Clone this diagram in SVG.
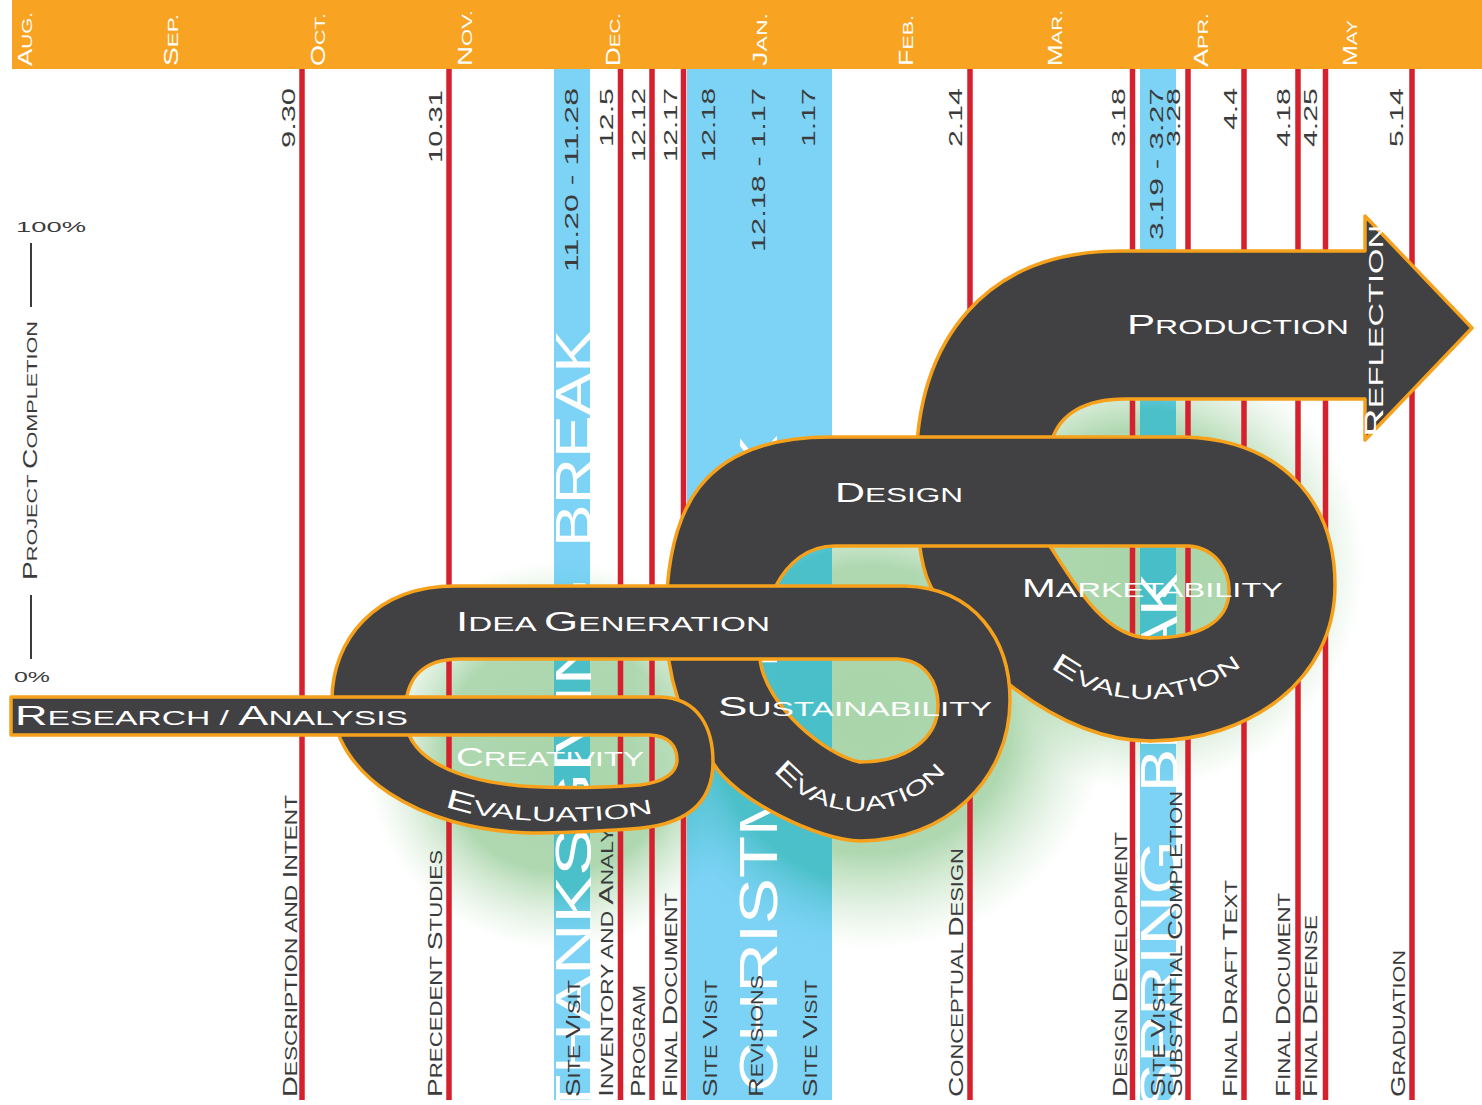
<svg xmlns="http://www.w3.org/2000/svg" width="1482" height="1105" viewBox="0 0 1482 1105">
<defs>
<style>
.t{font-family:"Liberation Sans",Arial,sans-serif}
.date{font-size:18px;fill:#3b3b3c}
.lab{font-size:16.5px;fill:#3b3b3c}
.lab .c{font-size:21px}
.axis{font-size:15px;fill:#3b3b3c}
.axis .c{font-size:19.5px}
.mon{font-size:15.5px;fill:#fff}
.mon .c{font-size:19.5px}
.big{fill:#fff}
.rl{font-size:20.5px;fill:#fff}
.rl .c{font-size:27px}
.rib{fill:#414042}
.edge{fill:none;stroke:#f6a11c;stroke-width:3.5;stroke-linejoin:round;stroke-linecap:round}
.ms{stroke:#d5212e;stroke-width:5.5}
.band{fill:#7dd3f6}
</style>
<radialGradient id="glowGreen">
<stop offset="0" stop-color="#a9d5aa"/>
<stop offset="0.6" stop-color="#afd8b0"/>
<stop offset="1" stop-color="#cfe8cf" stop-opacity="0"/>
</radialGradient>
<radialGradient id="glowTeal">
<stop offset="0" stop-color="#47bec8"/>
<stop offset="0.68" stop-color="#4cc0c9"/>
<stop offset="1" stop-color="#7dd3f6" stop-opacity="0"/>
</radialGradient>
<clipPath id="bandClip">
<rect x="554" y="69" width="36" height="1031"/>
<rect x="687" y="69" width="145" height="1031"/>
<rect x="1140" y="69" width="36" height="1031"/>
</clipPath>
<path id="arcC" d="M445,806 C480,821 590,829 657,812"/>
<path id="arcS" d="M773.4,770.6 A113 113 0 0 0 949,767.6"/>
<path id="arcM" d="M1050.5,667.4 A157 157 0 0 0 1245.9,662.3"/>
</defs>

<rect width="1482" height="1105" fill="#fff"/>

<!-- soft green halos behind the loops -->
<g id="halos">
<circle cx="560" cy="755" r="195" fill="url(#glowGreen)"/>
<circle cx="870" cy="710" r="240" fill="url(#glowGreen)"/>
<circle cx="1140" cy="565" r="225" fill="url(#glowGreen)"/>
</g>

<!-- holiday breaks -->
<g id="breaks">
<rect class="band" x="554" y="69" width="36" height="1031"/>
<rect class="band" x="687" y="69" width="145" height="1031"/>
<rect class="band" x="1140" y="69" width="36" height="1031"/>
<g clip-path="url(#bandClip)">
<circle cx="560" cy="755" r="200" fill="url(#glowTeal)"/>
<circle cx="880" cy="715" r="250" fill="url(#glowTeal)"/>
<circle cx="1140" cy="565" r="230" fill="url(#glowTeal)"/>
</g>
<text class="t big" font-size="50" transform="translate(591,1118) rotate(-90)" textLength="540" lengthAdjust="spacingAndGlyphs">THANKSGIVING</text>
<text class="t big" font-size="50" transform="translate(591,547) rotate(-90)" textLength="217" lengthAdjust="spacingAndGlyphs">BREAK</text>
<text class="t big" font-size="54.5" transform="translate(777,1092) rotate(-90)" textLength="657" lengthAdjust="spacingAndGlyphs">CHRISTMAS BREAK</text>
<text class="t big" font-size="52" transform="translate(1177,1110) rotate(-90)" textLength="270" lengthAdjust="spacingAndGlyphs">SPRING</text>
<text class="t big" font-size="52" transform="translate(1177,792) rotate(-90)" textLength="219" lengthAdjust="spacingAndGlyphs">BREAK</text>
</g>

<!-- milestone lines -->
<g id="milestones">
<line class="ms" x1="302" y1="69" x2="302" y2="1100"/>
<line class="ms" x1="449" y1="69" x2="449" y2="1100"/>
<line class="ms" x1="620.5" y1="69" x2="620.5" y2="1100"/>
<line class="ms" x1="652" y1="69" x2="652" y2="1100"/>
<line class="ms" x1="683.5" y1="69" x2="683.5" y2="1100"/>
<line class="ms" x1="970" y1="69" x2="970" y2="1100"/>
<line class="ms" x1="1132.5" y1="69" x2="1132.5" y2="1100"/>
<line class="ms" x1="1188" y1="69" x2="1188" y2="1100"/>
<line class="ms" x1="1244" y1="69" x2="1244" y2="1100"/>
<line class="ms" x1="1298" y1="69" x2="1298" y2="1100"/>
<line class="ms" x1="1325.5" y1="69" x2="1325.5" y2="1100"/>
<line class="ms" x1="1412" y1="69" x2="1412" y2="1100"/>
</g>

<!-- dates -->
<g id="dates" text-anchor="end">
<text class="t date" transform="translate(295,88) rotate(-90)" textLength="60" lengthAdjust="spacingAndGlyphs">9.30</text>
<text class="t date" transform="translate(442,90) rotate(-90)" textLength="73" lengthAdjust="spacingAndGlyphs">10.31</text>
<text class="t date" transform="translate(578,88) rotate(-90)" textLength="184" lengthAdjust="spacingAndGlyphs">11.20 - 11.28</text>
<text class="t date" transform="translate(613,88) rotate(-90)" textLength="59" lengthAdjust="spacingAndGlyphs">12.5</text>
<text class="t date" transform="translate(645,88) rotate(-90)" textLength="74" lengthAdjust="spacingAndGlyphs">12.12</text>
<text class="t date" transform="translate(677,88) rotate(-90)" textLength="74" lengthAdjust="spacingAndGlyphs">12.17</text>
<text class="t date" transform="translate(715,88) rotate(-90)" textLength="74" lengthAdjust="spacingAndGlyphs">12.18</text>
<text class="t date" transform="translate(765,88) rotate(-90)" textLength="164" lengthAdjust="spacingAndGlyphs">12.18 - 1.17</text>
<text class="t date" transform="translate(815,88) rotate(-90)" textLength="59" lengthAdjust="spacingAndGlyphs">1.17</text>
<text class="t date" transform="translate(962,88) rotate(-90)" textLength="59" lengthAdjust="spacingAndGlyphs">2.14</text>
<text class="t date" transform="translate(1125,88) rotate(-90)" textLength="59" lengthAdjust="spacingAndGlyphs">3.18</text>
<text class="t date" transform="translate(1163,88) rotate(-90)" textLength="152" lengthAdjust="spacingAndGlyphs">3.19 - 3.27</text>
<text class="t date" transform="translate(1180,88) rotate(-90)" textLength="59" lengthAdjust="spacingAndGlyphs">3.28</text>
<text class="t date" transform="translate(1237,88) rotate(-90)" textLength="42" lengthAdjust="spacingAndGlyphs">4.4</text>
<text class="t date" transform="translate(1290,88) rotate(-90)" textLength="59" lengthAdjust="spacingAndGlyphs">4.18</text>
<text class="t date" transform="translate(1317,88) rotate(-90)" textLength="59" lengthAdjust="spacingAndGlyphs">4.25</text>
<text class="t date" transform="translate(1403,88) rotate(-90)" textLength="59" lengthAdjust="spacingAndGlyphs">5.14</text>
</g>

<!-- deliverables -->
<g id="deliverables">
<text class="t lab" transform="translate(297,1097) rotate(-90)" textLength="302" lengthAdjust="spacingAndGlyphs"><tspan class="c">D</tspan>ESCRIPTION AND <tspan class="c">I</tspan>NTENT</text>
<text class="t lab" transform="translate(442,1097) rotate(-90)" textLength="247" lengthAdjust="spacingAndGlyphs"><tspan class="c">P</tspan>RECEDENT <tspan class="c">S</tspan>TUDIES</text>
<text class="t lab" transform="translate(580,1097) rotate(-90)" textLength="117" lengthAdjust="spacingAndGlyphs"><tspan class="c">S</tspan>ITE <tspan class="c">V</tspan>ISIT</text>
<text class="t lab" transform="translate(613,1097) rotate(-90)" textLength="306" lengthAdjust="spacingAndGlyphs"><tspan class="c">I</tspan>NVENTORY AND <tspan class="c">A</tspan>NALYSIS</text>
<text class="t lab" transform="translate(645,1097) rotate(-90)" textLength="112" lengthAdjust="spacingAndGlyphs"><tspan class="c">P</tspan>ROGRAM</text>
<text class="t lab" transform="translate(677,1097) rotate(-90)" textLength="204" lengthAdjust="spacingAndGlyphs"><tspan class="c">F</tspan>INAL <tspan class="c">D</tspan>OCUMENT</text>
<text class="t lab" transform="translate(717,1097) rotate(-90)" textLength="117" lengthAdjust="spacingAndGlyphs"><tspan class="c">S</tspan>ITE <tspan class="c">V</tspan>ISIT</text>
<text class="t lab" transform="translate(763,1097) rotate(-90)" textLength="122" lengthAdjust="spacingAndGlyphs"><tspan class="c">R</tspan>EVISIONS</text>
<text class="t lab" transform="translate(817,1097) rotate(-90)" textLength="117" lengthAdjust="spacingAndGlyphs"><tspan class="c">S</tspan>ITE <tspan class="c">V</tspan>ISIT</text>
<text class="t lab" transform="translate(963,1097) rotate(-90)" textLength="249" lengthAdjust="spacingAndGlyphs"><tspan class="c">C</tspan>ONCEPTUAL <tspan class="c">D</tspan>ESIGN</text>
<text class="t lab" transform="translate(1127,1097) rotate(-90)" textLength="265" lengthAdjust="spacingAndGlyphs"><tspan class="c">D</tspan>ESIGN <tspan class="c">D</tspan>EVELOPMENT</text>
<text class="t lab" transform="translate(1165,1097) rotate(-90)" textLength="119" lengthAdjust="spacingAndGlyphs"><tspan class="c">S</tspan>ITE <tspan class="c">V</tspan>ISIT</text>
<text class="t lab" transform="translate(1182,1097) rotate(-90)" textLength="306" lengthAdjust="spacingAndGlyphs"><tspan class="c">S</tspan>UBSTANTIAL <tspan class="c">C</tspan>OMPLETION</text>
<text class="t lab" transform="translate(1237,1097) rotate(-90)" textLength="217" lengthAdjust="spacingAndGlyphs"><tspan class="c">F</tspan>INAL <tspan class="c">D</tspan>RAFT <tspan class="c">T</tspan>EXT</text>
<text class="t lab" transform="translate(1290,1097) rotate(-90)" textLength="204" lengthAdjust="spacingAndGlyphs"><tspan class="c">F</tspan>INAL <tspan class="c">D</tspan>OCUMENT</text>
<text class="t lab" transform="translate(1317,1097) rotate(-90)" textLength="182" lengthAdjust="spacingAndGlyphs"><tspan class="c">F</tspan>INAL <tspan class="c">D</tspan>EFENSE</text>
<text class="t lab" transform="translate(1405,1097) rotate(-90)" textLength="147" lengthAdjust="spacingAndGlyphs"><tspan class="c">G</tspan>RADUATION</text>
</g>

<!-- completion axis -->
<g id="axis">
<text class="t axis" x="16" y="232" textLength="70" lengthAdjust="spacingAndGlyphs">100%</text>
<text class="t axis" x="14" y="682" textLength="36" lengthAdjust="spacingAndGlyphs">0%</text>
<line x1="31" y1="243" x2="31" y2="307" stroke="#3b3b3c" stroke-width="2"/>
<line x1="31" y1="595" x2="31" y2="659" stroke="#3b3b3c" stroke-width="2"/>
<text class="t axis" transform="translate(37,580) rotate(-90)" textLength="259" lengthAdjust="spacingAndGlyphs"><tspan class="c">P</tspan>ROJECT <tspan class="c">C</tspan>OMPLETION</text>
</g>

<!-- process ribbon, drawn back to front -->
<g id="stage-production">
<path class="rib" d="M1160,741 L1150,741 C1100,741 1055,720 1011,686 C985,665 945,615 930,585 C920,565 916,530 916,470 C916,340 985,251 1120,251 L1365,251 L1365,216 L1472,328 L1365,440 L1365,399 L1125,399 C1085,399 1060,414 1052,440 C1046,470 1046,520 1050,546 C1075,585 1105,638 1150,638 L1160,638 Z"/>
<path class="edge" d="M1150,741 C1100,741 1055,720 1011,686 C985,665 945,615 930,585 C920,565 916,530 916,470 C916,340 985,251 1120,251 L1365,251 L1365,216 L1472,328 L1365,440 L1365,399 L1125,399 C1085,399 1060,414 1052,440 C1046,470 1046,520 1050,546 C1075,585 1105,638 1150,638"/>
<text class="t rl" x="1127" y="334" textLength="222" lengthAdjust="spacingAndGlyphs"><tspan class="c">P</tspan>RODUCTION</text>
<text class="t rl" font-size="19.5" transform="translate(1383,437) rotate(-90)" textLength="212" lengthAdjust="spacingAndGlyphs"><tspan font-size="25">R</tspan>EFLECTION</text>
</g>

<g id="stage-design">
<path class="rib" d="M870,841 L860,841 C820,841 735,800 713,763 C690,735 666,690 666,620 C666,510 700,437 830,437 L1185,437 C1280,440 1335,500 1335,585 C1335,680 1250,741 1150,741 L1150,638 C1200,638 1228,622 1229,592 C1230,570 1215,548 1189,546 L835,546 C780,546 757,615 760,659 C765,705 825,755 860,762 L870,762 Z"/>
<path class="edge" d="M860,841 C820,841 735,800 713,763 C690,735 666,690 666,620 C666,510 700,437 830,437 L1185,437 C1280,440 1335,500 1335,585 C1335,680 1250,741 1150,741 M860,762 C825,755 765,705 760,659 C757,615 780,546 835,546 L1189,546 C1215,548 1230,570 1229,592 C1228,622 1200,638 1150,638"/>
<text class="t rl" x="835" y="502" textLength="128" lengthAdjust="spacingAndGlyphs"><tspan class="c">D</tspan>ESIGN</text>
<text class="t rl" font-size="20" x="1022" y="597" textLength="261" lengthAdjust="spacingAndGlyphs"><tspan font-size="25.5">M</tspan>ARKETABILITY</text>
<text class="t rl"><textPath href="#arcM" textLength="205" lengthAdjust="spacingAndGlyphs"><tspan class="c">E</tspan>VALUATION</textPath></text>
</g>

<g id="stage-idea">
<path class="rib" d="M540,833 L530,833 C420,830 332,775 332,700 C332,640 375,586 455,586 L905,586 C975,588 1010,640 1010,700 C1010,780 945,841 860,841 L860,762 C905,762 938,740 938,705 C938,682 925,660 897,659 L460,659 C420,659 405,680 405,715 C405,760 460,782 530,786.5 L540,786.5 Z"/>
<path class="edge" d="M530,833 C420,830 332,775 332,700 C332,640 375,586 455,586 L905,586 C975,588 1010,640 1010,700 C1010,780 945,841 860,841 M530,786.5 C460,782 405,760 405,715 C405,680 420,659 460,659 L897,659 C925,660 938,682 938,705 C938,740 905,762 860,762"/>
<text class="t rl" x="456" y="631" textLength="314" lengthAdjust="spacingAndGlyphs"><tspan class="c">I</tspan>DEA <tspan class="c">G</tspan>ENERATION</text>
<text class="t rl" x="718" y="716" textLength="274" lengthAdjust="spacingAndGlyphs"><tspan class="c">S</tspan>USTAINABILITY</text>
<text class="t rl"><textPath href="#arcS" textLength="196" lengthAdjust="spacingAndGlyphs"><tspan class="c">E</tspan>VALUATION</textPath></text>
</g>

<g id="stage-research">
<path class="rib" d="M530,786.5 C570,789 610,787 640,785 C665,782 677,772 677,760 C677,745 668,736 650,735 L11,735 L11,697 L660,697 C700,698 713,730 713,762 C713,800 690,826 630,829 C600,831 560,833 530,833 Z"/>
<path class="edge" d="M530,786.5 C570,789 610,787 640,785 C665,782 677,772 677,760 C677,745 668,736 650,735 L11,735 L11,697 L660,697 C700,698 713,730 713,762 C713,800 690,826 630,829 C600,831 560,833 530,833"/>
<text class="t rl" font-size="22.5" x="15" y="725" textLength="393" lengthAdjust="spacingAndGlyphs"><tspan font-size="27.5">R</tspan>ESEARCH / <tspan font-size="27.5">A</tspan>NALYSIS</text>
<text class="t rl" font-size="19.5" x="456" y="766" textLength="188" lengthAdjust="spacingAndGlyphs"><tspan font-size="25">C</tspan>REATIVITY</text>
<text class="t rl"><textPath href="#arcC" textLength="210" lengthAdjust="spacingAndGlyphs"><tspan class="c">E</tspan>VALUATION</textPath></text>
</g>

<!-- month header -->
<g id="months">
<rect x="12" y="0" width="1470" height="69" fill="#f8a321"/>
<text class="t mon" transform="translate(32,66) rotate(-90)" textLength="54" lengthAdjust="spacingAndGlyphs"><tspan class="c">A</tspan>UG.</text>
<text class="t mon" transform="translate(178,66) rotate(-90)" textLength="52" lengthAdjust="spacingAndGlyphs"><tspan class="c">S</tspan>EP.</text>
<text class="t mon" transform="translate(325,66) rotate(-90)" textLength="53" lengthAdjust="spacingAndGlyphs"><tspan class="c">O</tspan>CT.</text>
<text class="t mon" transform="translate(472,66) rotate(-90)" textLength="56" lengthAdjust="spacingAndGlyphs"><tspan class="c">N</tspan>OV.</text>
<text class="t mon" transform="translate(620,66) rotate(-90)" textLength="53" lengthAdjust="spacingAndGlyphs"><tspan class="c">D</tspan>EC.</text>
<text class="t mon" transform="translate(767,66) rotate(-90)" textLength="53" lengthAdjust="spacingAndGlyphs"><tspan class="c">J</tspan>AN.</text>
<text class="t mon" transform="translate(913,66) rotate(-90)" textLength="51" lengthAdjust="spacingAndGlyphs"><tspan class="c">F</tspan>EB.</text>
<text class="t mon" transform="translate(1062,66) rotate(-90)" textLength="56" lengthAdjust="spacingAndGlyphs"><tspan class="c">M</tspan>AR.</text>
<text class="t mon" transform="translate(1208,67) rotate(-90)" textLength="54" lengthAdjust="spacingAndGlyphs"><tspan class="c">A</tspan>PR.</text>
<text class="t mon" transform="translate(1357,66) rotate(-90)" textLength="46" lengthAdjust="spacingAndGlyphs"><tspan class="c">M</tspan>AY</text>
</g>
</svg>
